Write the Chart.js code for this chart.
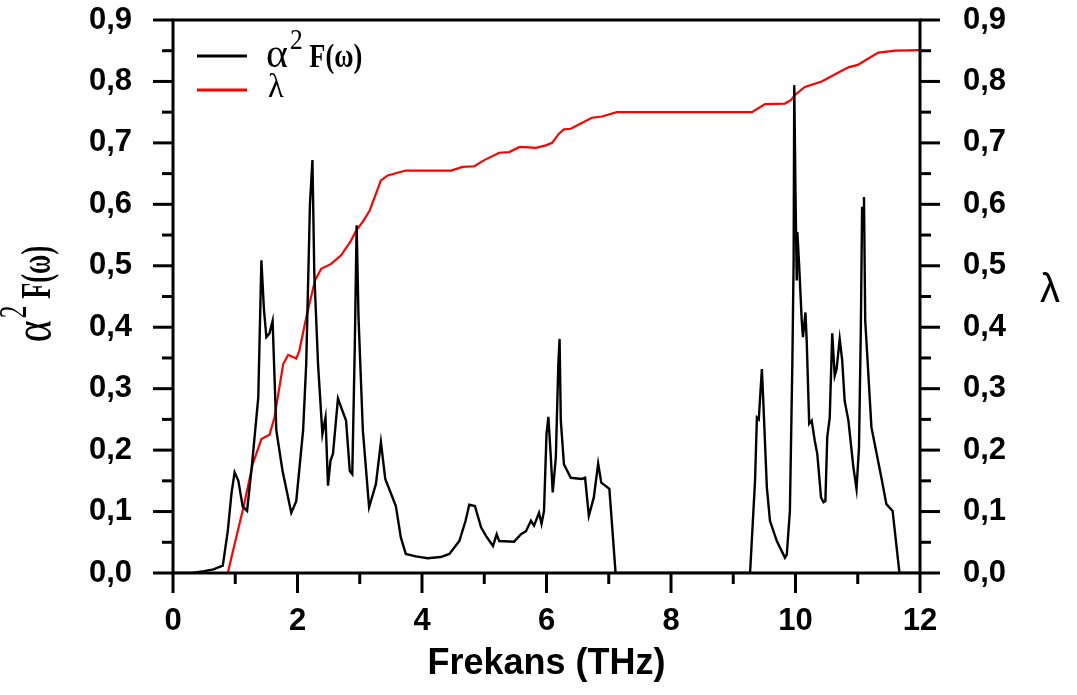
<!DOCTYPE html>
<html>
<head>
<meta charset="utf-8">
<script src="https://cdn.jsdelivr.net/npm/chart.js@4/dist/chart.umd.min.js"></script>
<style>
  html, body { margin: 0; padding: 0; background: #fff; }
  #wrap { width: 1077px; height: 695px; }
</style>
</head>
<body>
<div id="wrap"><canvas id="chart" width="1077" height="695"></canvas></div>
<script>
// Eliashberg function a2F(w) vs frequency (THz)
const a2fFreq = [0, 0.3, 0.5, 0.65, 0.8, 0.88, 0.94, 0.99, 1.05, 1.12, 1.19, 1.27, 1.37, 1.42, 1.46, 1.5, 1.55, 1.6, 1.66, 1.76,
  1.9, 1.98, 2.09, 2.14, 2.2, 2.24, 2.27, 2.33, 2.4, 2.45, 2.49, 2.53, 2.57, 2.65, 2.7, 2.78, 2.84, 2.88, 2.92, 2.95,
  2.98, 3.05, 3.15, 3.26, 3.34, 3.41, 3.58, 3.66, 3.74, 3.9, 4.09, 4.3, 4.44, 4.6, 4.7, 4.76, 4.85, 4.95, 5.03, 5.14,
  5.2, 5.24, 5.48, 5.59, 5.67, 5.75, 5.8, 5.88, 5.92, 5.96, 6.0, 6.03, 6.07, 6.1, 6.15, 6.19, 6.21, 6.23, 6.28, 6.39,
  6.57, 6.62, 6.68, 6.76, 6.83, 6.88, 7.01, 7.11, 9.27, 9.35, 9.38, 9.41, 9.46, 9.48, 9.54, 9.59, 9.7, 9.83, 9.86, 9.91,
  9.95, 9.97, 9.98, 10.0, 10.02, 10.03, 10.06, 10.1, 10.12, 10.16, 10.18, 10.22, 10.26, 10.31, 10.35, 10.41, 10.45, 10.48, 10.51, 10.55,
  10.59, 10.63, 10.66, 10.71, 10.75, 10.79, 10.85, 10.93, 10.98, 11.02, 11.05, 11.07, 11.09, 11.1, 11.12, 11.22, 11.38, 11.46, 11.56, 11.67, 12];
const a2fValues = [0, 0, 0.003, 0.006, 0.012, 0.068, 0.13, 0.164, 0.15, 0.108, 0.101, 0.177, 0.286, 0.509, 0.43, 0.384, 0.39, 0.41, 0.232, 0.166,
  0.098, 0.117, 0.232, 0.34, 0.6, 0.672, 0.487, 0.34, 0.226, 0.253, 0.142, 0.183, 0.194, 0.284, 0.27, 0.248, 0.166, 0.161, 0.367, 0.566,
  0.416, 0.232, 0.107, 0.145, 0.213, 0.153, 0.109, 0.058, 0.031, 0.027, 0.024, 0.026, 0.031, 0.052, 0.085, 0.111, 0.109, 0.074, 0.06, 0.044,
  0.063, 0.052, 0.051, 0.063, 0.068, 0.085, 0.077, 0.098, 0.08, 0.101, 0.226, 0.254, 0.188, 0.131, 0.188, 0.34, 0.381, 0.248, 0.177, 0.155,
  0.153, 0.155, 0.093, 0.123, 0.178, 0.147, 0.137, 0, 0, 0.15, 0.253, 0.25, 0.332, 0.286, 0.139, 0.085, 0.052, 0.025, 0.03, 0.101,
  0.346, 0.509, 0.794, 0.618, 0.476, 0.555, 0.498, 0.411, 0.384, 0.424, 0.378, 0.243, 0.248, 0.215, 0.194, 0.123, 0.115, 0.117, 0.221, 0.253,
  0.39, 0.321, 0.332, 0.381, 0.346, 0.28, 0.248, 0.172, 0.137, 0.204, 0.4, 0.596, 0.558, 0.612, 0.411, 0.237, 0.155, 0.112, 0.101, 0, 0];

// electron-phonon coupling constant lambda
const lambdaFreq = [0, 0.88, 0.95, 1.13, 1.28, 1.42, 1.55, 1.63, 1.77, 1.85, 1.98, 2.03, 2.14, 2.28, 2.38, 2.54, 2.7, 2.86, 2.94, 3.05,
  3.16, 3.34, 3.45, 3.74, 4.47, 4.65, 4.84, 5.0, 5.24, 5.4, 5.56, 5.66, 5.83, 5.99, 6.09, 6.2, 6.28, 6.39, 6.52, 6.73,
  6.89, 7.13, 9.3, 9.51, 9.83, 9.93, 9.99, 10.15, 10.42, 10.66, 10.85, 11.0, 11.13, 11.33, 11.6, 12];
const lambdaValues = [0, 0, 0.03, 0.106, 0.177, 0.218, 0.225, 0.253, 0.34, 0.355, 0.349, 0.362, 0.416, 0.476, 0.495, 0.503, 0.517, 0.541, 0.557, 0.572,
  0.59, 0.639, 0.647, 0.655, 0.655, 0.661, 0.662, 0.672, 0.684, 0.685, 0.693, 0.693, 0.692, 0.696, 0.7, 0.715, 0.722, 0.723, 0.73, 0.741,
  0.743, 0.75, 0.75, 0.763, 0.764, 0.77, 0.778, 0.791, 0.8, 0.813, 0.823, 0.827, 0.835, 0.847, 0.85, 0.851];

const sans = "'Liberation Sans', Arial, sans-serif";
const serif = "'Liberation Serif', 'Times New Roman', serif";

const isMajorY = (v) => Math.round(v * 100) % 10 === 0;
const yLabel = (v) => (isMajorY(v) ? v.toFixed(1).replace(".", ",") : "");

// frame + outward ticks (major long, minor short)
const frameTicks = {
  id: "frameTicks",
  afterDraw(chart) {
    const { ctx, chartArea: a, scales } = chart;
    const seg = (x1, y1, x2, y2) => {
      ctx.beginPath();
      ctx.moveTo(x1, y1);
      ctx.lineTo(x2, y2);
      ctx.stroke();
    };
    ctx.save();
    ctx.strokeStyle = "#000";
    ctx.lineWidth = 3;
    ctx.lineCap = "square";
    ctx.strokeRect(a.left, a.top, a.right - a.left, a.bottom - a.top);
    ctx.lineCap = "butt";
    scales.x.ticks.forEach((t) => {
      const px = scales.x.getPixelForValue(t.value);
      seg(px, a.bottom, px, a.bottom + (Math.round(t.value) % 2 === 0 ? 20 : 11));
    });
    scales.y.ticks.forEach((t) => {
      const py = scales.y.getPixelForValue(t.value);
      seg(a.left, py, a.left - (isMajorY(t.value) ? 20 : 11), py);
    });
    scales.y1.ticks.forEach((t) => {
      const py = scales.y1.getPixelForValue(t.value);
      seg(a.right, py, a.right + (isMajorY(t.value) ? 20 : 11), py);
    });
    ctx.restore();
  },
};

// "α² F(ω)" drawn piecewise; vs stretches glyphs across the text line. returns width
const drawA2F = (ctx, x, y, size, vs, measureOnly) => {
  const parts = [
    { t: "\u03b1", f: `${Math.round(size * 1.2)}px ${serif}`, dy: 0, hs: 1.05, gap: 2 },
    { t: "2", f: `${Math.round(size * 0.9)}px ${serif}`, dy: -size * 0.55, hs: 0.85, gap: 0 },
    { t: " F(\u03c9)", f: `bold ${size}px ${serif}`, dy: 0, hs: 0.8, gap: 0 },
  ];
  let w = 0;
  parts.forEach((p) => {
    ctx.font = p.f;
    if (!measureOnly) {
      ctx.save();
      ctx.translate(x + w, y + p.dy * vs);
      ctx.scale(p.hs, vs);
      ctx.fillText(p.t, 0, 0);
      ctx.restore();
    }
    w += ctx.measureText(p.t).width * p.hs + p.gap;
  });
  return w;
};

const labelsPlugin = {
  id: "labelsPlugin",
  afterDraw(chart) {
    const { ctx, chartArea: a } = chart;
    const ds = chart.data.datasets;
    ctx.save();
    ctx.fillStyle = "#000";
    ctx.textBaseline = "alphabetic";
    ctx.textAlign = "left";

    // legend
    ctx.lineWidth = 3;
    ctx.strokeStyle = ds[0].borderColor;
    ctx.beginPath();
    ctx.moveTo(a.left + 24, 56);
    ctx.lineTo(a.left + 74, 56);
    ctx.stroke();
    ctx.strokeStyle = ds[1].borderColor;
    ctx.beginPath();
    ctx.moveTo(a.left + 24, 90);
    ctx.lineTo(a.left + 74, 90);
    ctx.stroke();
    drawA2F(ctx, a.left + 93, 67, 33, 1, false);
    ctx.save();
    ctx.translate(a.left + 95, 97);
    ctx.scale(0.95, 1);
    ctx.font = `34px ${serif}`;
    ctx.fillText(ds[1].label, 0, 0);
    ctx.restore();

    // left axis title (rotated)
    const w = drawA2F(ctx, 0, 0, 33, 1.3, true);
    ctx.save();
    ctx.translate(50, 294);
    ctx.rotate(-Math.PI / 2);
    drawA2F(ctx, -w / 2, 0, 33, 1.3, false);
    ctx.restore();

    // right axis title
    ctx.font = `40px ${sans}`;
    ctx.textAlign = "center";
    ctx.fillText("\u03bb", 1050, 302);
    ctx.restore();
  },
};

const pts = (xs, ys) => xs.map((x, i) => ({ x, y: ys[i] }));
const noPad = (s) => { s.paddingTop = 0; s.paddingBottom = 0; };

new Chart(document.getElementById("chart"), {
  type: "line",
  data: {
    datasets: [
      {
        label: "\u03b12 F(\u03c9)",
        data: pts(a2fFreq, a2fValues),
        borderColor: "#000000",
        borderWidth: 2.4,
        pointRadius: 0,
        tension: 0,
        yAxisID: "y",
      },
      {
        label: "\u03bb",
        data: pts(lambdaFreq, lambdaValues),
        borderColor: "#ff0000",
        borderWidth: 2.2,
        pointRadius: 0,
        tension: 0,
        yAxisID: "y1",
      },
    ],
  },
  options: {
    responsive: false,
    animation: false,
    layout: { padding: { top: 20, left: 0, right: 0, bottom: 0 } },
    plugins: { legend: { display: false }, tooltip: { enabled: false } },
    scales: {
      x: {
        type: "linear",
        min: 0,
        max: 12,
        grid: { display: false },
        border: { display: false },
        ticks: {
          stepSize: 1,
          autoSkip: false,
          maxRotation: 0,
          padding: 22,
          color: "#000",
          font: { family: sans, size: 31, weight: "bold" },
          callback: (v) => (Math.round(v) % 2 === 0 ? String(v) : ""),
        },
        title: {
          display: true,
          text: "Frekans (THz)",
          color: "#000",
          font: { family: sans, size: 36, weight: "bold" },
          padding: { top: 0, bottom: 9 },
        },
        afterFit: (s) => { s.height = 122; s.paddingLeft = 0; s.paddingRight = 0; },
      },
      y: {
        position: "left",
        min: 0,
        max: 0.9,
        grid: { display: false },
        border: { display: false },
        ticks: {
          stepSize: 0.05,
          autoSkip: false,
          padding: 33,
          color: "#000",
          font: { family: sans, size: 31, weight: "bold" },
          callback: yLabel,
        },
        afterFit: (s) => { s.width = 173; noPad(s); },
      },
      y1: {
        position: "right",
        min: 0,
        max: 0.9,
        grid: { display: false },
        border: { display: false },
        ticks: {
          stepSize: 0.05,
          autoSkip: false,
          padding: 35,
          color: "#000",
          font: { family: sans, size: 31, weight: "bold" },
          callback: yLabel,
        },
        afterFit: (s) => { s.width = 157; noPad(s); },
      },
    },
  },
  plugins: [frameTicks, labelsPlugin],
});
</script>
</body>
</html>
